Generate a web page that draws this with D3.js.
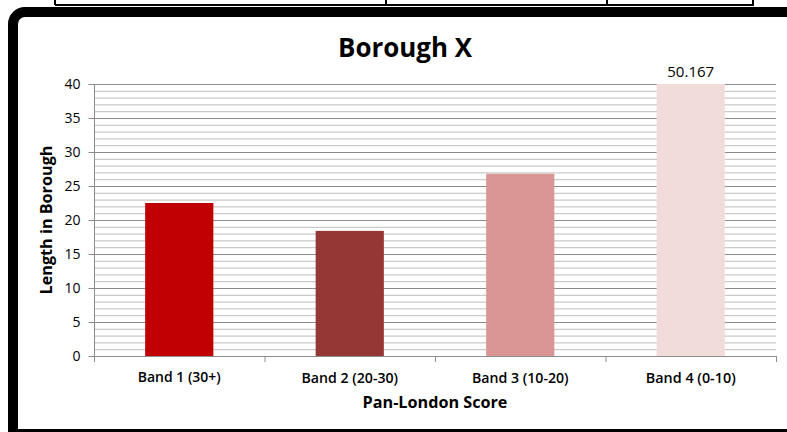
<!DOCTYPE html>
<html><head><meta charset="utf-8">
<script src="https://cdn.jsdelivr.net/npm/d3@7"></script>
<style>html,body{margin:0;padding:0;background:#fff;}svg{display:block;}</style>
</head><body>
<svg id="c" width="787" height="432"></svg>
<script>
const categories = ["Band 1 (30+)", "Band 2 (20-30)", "Band 3 (10-20)", "Band 4 (0-10)"];
const values = [22.5, 18.4, 26.8, 50.167];
const colors = ["#C00000", "#953735", "#D99694", "#F2DCDB"];
const yTicks = [0, 5, 10, 15, 20, 25, 30, 35, 40];
const title = "Borough X";
const xTitle = "Pan-London Score";
const yTitle = "Length in Borough";
const font = "'Open Sans', sans-serif";

const svg = d3.select("#c");

function fit(sel, w) {
  const n = sel.node();
  const fs = parseFloat(sel.attr("font-size"));
  const len = n.getComputedTextLength();
  if (len > 0) sel.attr("font-size", fs * w / len);
}

// partial table at top
const tbl = svg.append("g").attr("stroke", "#000").attr("stroke-width", 2).attr("fill", "none");
tbl.append("line").attr("x1", 55).attr("x2", 754).attr("y1", 5).attr("y2", 5);
[55, 386, 607, 753].forEach(x => tbl.append("line").attr("x1", x).attr("x2", x).attr("y1", 0).attr("y2", 5));

// frame: rounded top-left corner, square bottom
const fp = d3.path();
fp.moveTo(800, 12);
fp.lineTo(25, 12);
fp.arcTo(13, 12, 13, 24, 12);
fp.lineTo(13, 434);
fp.lineTo(800, 434);
svg.append("path").attr("d", fp.toString()).attr("fill", "#fff").attr("stroke", "#000").attr("stroke-width", 10);

const m = {l: 94, r: 776, t: 84, b: 356};
const x = d3.scaleBand().domain(categories).range([m.l, m.r]).paddingInner(0.6).paddingOuter(0.3);
const xb = d3.scaleBand().domain(categories).range([m.l, m.r]);
const y = d3.scaleLinear().domain([0, 40]).range([m.b, m.t]);

// gridlines
const minor = d3.range(0, 41, 1);
svg.append("g").selectAll("line").data(minor).join("line")
  .attr("x1", m.l).attr("x2", m.r)
  .attr("y1", d => y(d) + 0.5).attr("y2", d => y(d) + 0.5)
  .attr("stroke", d => d % 5 === 0 ? "#8c8c8c" : "#bdbdbd").attr("stroke-width", 1);

// bars (clipped at axis max)
svg.append("g").selectAll("rect").data(values).join("rect")
  .attr("x", (d, i) => x(categories[i]))
  .attr("width", x.bandwidth())
  .attr("y", d => y(Math.min(d, 40)))
  .attr("height", d => m.b - y(Math.min(d, 40)))
  .attr("fill", (d, i) => colors[i]);

// label for clipped bar
values.forEach((v, i) => {
  if (v > 40) {
    const t = svg.append("text").attr("x", x(categories[i]) + x.bandwidth() / 2).attr("y", 77)
      .attr("text-anchor", "middle").attr("font-family", font).attr("font-size", 13)
      .attr("fill", "#000").text(String(v));
    fit(t, 47);
  }
});

// y axis
const ya = svg.append("g").attr("transform", `translate(${m.l + 0.5},0)`)
  .call(d3.axisLeft(y).tickValues(yTicks).tickSize(6).tickPadding(8));
ya.select(".domain").attr("stroke", "#8c8c8c").attr("d", `M0,${m.t}V${m.b + 6}`);
ya.selectAll(".tick line").attr("stroke", "#8c8c8c");
ya.selectAll(".tick text").attr("font-family", font).attr("font-size", 14).attr("fill", "#000");

// x axis
const xa = svg.append("g").attr("transform", `translate(0,${m.b + 0.5})`)
  .call(d3.axisBottom(x).tickSize(0).tickPadding(16));
xa.select(".domain").attr("stroke", "#8c8c8c").attr("d", `M${m.l},0H${m.r}`);
xa.selectAll(".tick text").attr("font-family", font).attr("font-size", 12.5).attr("font-weight", 600).attr("fill", "#000");
svg.append("g").selectAll("line").data(categories).join("line")
  .attr("x1", d => xb(d) + xb.bandwidth() + 0.5).attr("x2", d => xb(d) + xb.bandwidth() + 0.5)
  .attr("y1", m.b).attr("y2", m.b + 6).attr("stroke", "#8c8c8c");
xa.selectAll(".tick text").each(function() { fit(d3.select(this), 83 * d3.select(this).text().length / 12); });

// titles
const tt = svg.append("text").attr("x", 405).attr("y", 57).attr("text-anchor", "middle")
  .attr("font-family", font).attr("font-weight", "bold").attr("font-size", 26).attr("fill", "#000").text(title);
fit(tt, 134);
const xt = svg.append("text").attr("x", 435).attr("y", 408).attr("text-anchor", "middle")
  .attr("font-family", font).attr("font-weight", "bold").attr("font-size", 15).attr("fill", "#000").text(xTitle);
fit(xt, 145);
const yt = svg.append("text").attr("transform", "translate(52,220) rotate(-90)").attr("text-anchor", "middle")
  .attr("font-family", font).attr("font-weight", "bold").attr("font-size", 15).attr("fill", "#000").text(yTitle);
fit(yt, 149);
</script>
</body></html>
